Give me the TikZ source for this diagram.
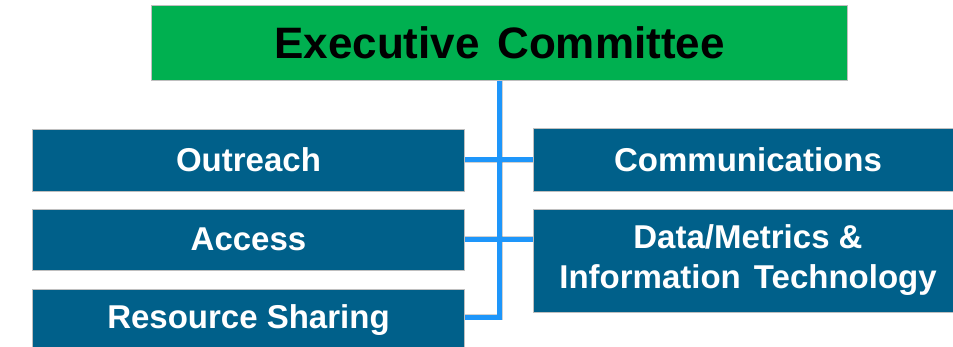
\documentclass[tikz,border=0pt]{standalone}
\usepackage{fontspec}
\setmainfont{Liberation Sans}
\definecolor{execgreen}{RGB}{0,176,80}
\definecolor{unitblue}{RGB}{0,96,138}
\definecolor{linkblue}{RGB}{30,150,250}
\begin{document}
\begin{tikzpicture}[x=1pt,y=-1pt,
  greenbox/.style={fill=execgreen,draw=gray!50,line width=0.6pt,inner sep=0pt,
    minimum width=696pt,minimum height=75pt,text=black,
    font=\fontsize{44}{48}\selectfont\bfseries},
  unitbox/.style={fill=unitblue,draw=gray!50,line width=0.6pt,inner sep=0pt,
    text=white,align=center,font=\fontsize{33}{40}\selectfont\bfseries},
  link/.style={draw=linkblue,line width=5pt},
  linkshadow/.style={draw=black,opacity=0.18,line width=6pt}]
\useasboundingbox (0,0) rectangle (953,347);
\fill[white] (0,0) rectangle (953,347);
% nodes
\node[greenbox] (exec) at (499.5,42.5) {Executive\hspace{0.12em} Committee};
\node[unitbox,minimum width=432pt,minimum height=62pt] (out) at (248.5,160) {Outreach};
\node[unitbox,minimum width=432pt,minimum height=61pt] (acc) at (248.5,239.5) {Access};
\node[unitbox,minimum width=432pt,minimum height=62pt] (res) at (248.5,320) {Resource Sharing};
\node[unitbox,minimum width=430pt,minimum height=63pt] (com) at (748,160) {Communications};
\node[unitbox,minimum width=430pt,minimum height=103pt] (dat) at (748,260.5) {Data/Metrics \&\\Information\hspace{0.12em} Technology};
% connectors
\coordinate (top) at (499.5,80);
\coordinate (corner) at (499.5,317.5);
\begin{scope}[shift={(3,4)}]
  \path[linkshadow] (top) -- (corner) -- (res.east |- corner);
  \path[linkshadow] (out.east) -- (com.west);
  \path[linkshadow] (acc.east) -- (dat.west |- acc.east);
\end{scope}
\path[link] (exec.south -| top) -- (corner) -- (res.east |- corner);
\path[link] (out.east) -- (com.west);
\path[link] (acc.east) -- (dat.west |- acc.east);
% redraw boxes over shadow ends
\node[unitbox,minimum width=432pt,minimum height=62pt] at (248.5,160) {Outreach};
\node[unitbox,minimum width=432pt,minimum height=61pt] at (248.5,239.5) {Access};
\node[unitbox,minimum width=432pt,minimum height=62pt] at (248.5,320) {Resource Sharing};
\node[unitbox,minimum width=430pt,minimum height=63pt] at (748,160) {Communications};
\node[unitbox,minimum width=430pt,minimum height=103pt] at (748,260.5) {Data/Metrics \&\\Information\hspace{0.12em} Technology};
\node[greenbox] at (499.5,42.5) {Executive\hspace{0.12em} Committee};
\end{tikzpicture}
\end{document}
